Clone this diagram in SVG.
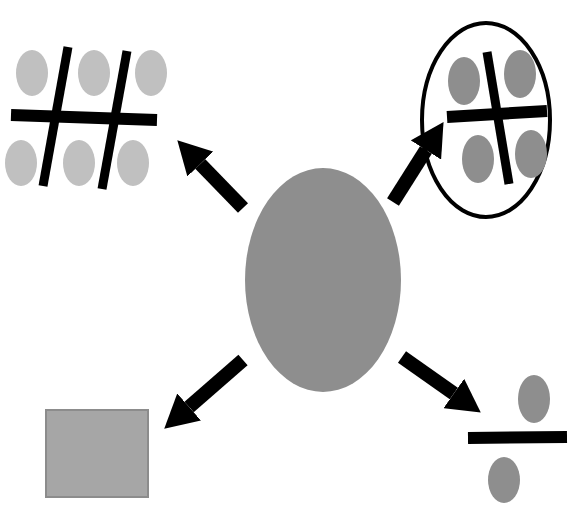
<svg xmlns="http://www.w3.org/2000/svg" width="571" height="506" viewBox="0 0 571 506">
<style>
.light{fill:#c0c0c0}
.dark{fill:#8e8e8e}
.bar{stroke:#000;stroke-width:11;stroke-linecap:butt}
.shaft{stroke:#000;stroke-width:14;fill:none;marker-end:url(#head)}
</style>
<defs>
<marker id="head" markerUnits="userSpaceOnUse" viewBox="0 0 34 36" refX="0" refY="18" markerWidth="34" markerHeight="36" orient="auto">
<path d="M0,0 L33,18 L0,36 z" fill="#000"/>
</marker>
</defs>
<rect width="571" height="506" fill="#fff"/>
<g id="center">
<ellipse cx="323" cy="280" rx="78" ry="112" class="dark"/>
</g>
<g id="grid">
<ellipse cx="32" cy="73" rx="16" ry="23" class="light"/>
<ellipse cx="94" cy="73" rx="16" ry="23" class="light"/>
<ellipse cx="151" cy="73" rx="16" ry="23" class="light"/>
<ellipse cx="21" cy="163" rx="16" ry="23" class="light"/>
<ellipse cx="79" cy="163" rx="16" ry="23" class="light"/>
<ellipse cx="133" cy="163" rx="16" ry="23" class="light"/>
<line x1="11" y1="115" x2="157" y2="120" class="bar" style="stroke-width:12"/>
<line x1="68" y1="47" x2="43" y2="186" class="bar" style="stroke-width:9"/>
<line x1="127" y1="51" x2="102" y2="189" class="bar" style="stroke-width:9"/>
</g>
<g id="circled">
<ellipse cx="486" cy="120" rx="64" ry="97" fill="none" stroke="#000" stroke-width="4"/>
<ellipse cx="464" cy="81" rx="16" ry="24" class="dark"/>
<ellipse cx="520" cy="74" rx="16" ry="24" class="dark"/>
<ellipse cx="478" cy="159" rx="16" ry="24" class="dark"/>
<ellipse cx="531" cy="154" rx="16" ry="24" class="dark"/>
<line x1="447" y1="117" x2="547" y2="111" class="bar" style="stroke-width:12"/>
<line x1="487" y1="52" x2="509" y2="184" class="bar" style="stroke-width:9"/>
</g>
<g id="box">
<rect x="46" y="410" width="102" height="87" fill="#a6a6a6" stroke="#8c8c8c" stroke-width="2"/>
</g>
<g id="divide">
<ellipse cx="534" cy="399" rx="16" ry="24" class="dark"/>
<ellipse cx="504" cy="480" rx="16" ry="23" class="dark"/>
<line x1="468" y1="438" x2="567" y2="437" class="bar" style="stroke-width:12"/>
</g>
<g id="connectors">
<line x1="393" y1="202" x2="425.9" y2="150" class="shaft"/>
<line x1="243" y1="208" x2="200.3" y2="164" class="shaft"/>
<line x1="243" y1="360" x2="189.1" y2="407" class="shaft"/>
<line x1="402" y1="357" x2="453.8" y2="393.5" class="shaft"/>
</g>
</svg>
